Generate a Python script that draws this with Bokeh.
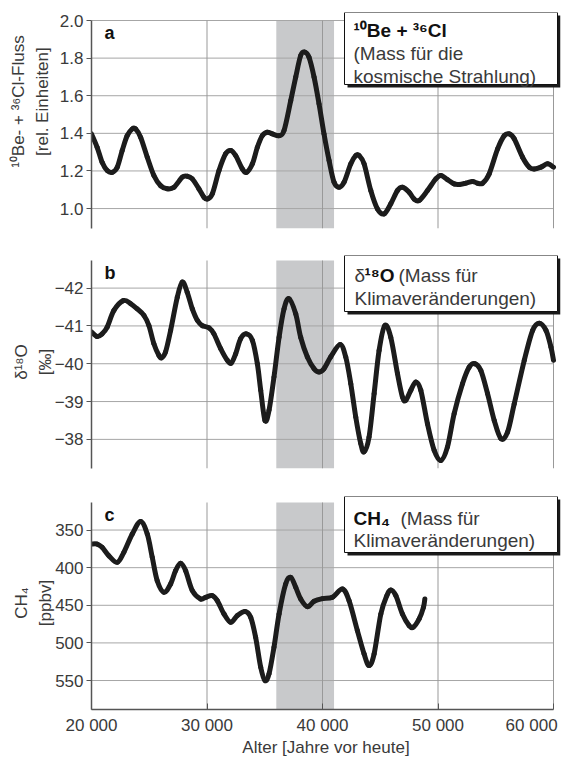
from bokeh.plotting import figure
from bokeh.layouts import column
from bokeh.models import Range1d, FixedTicker, BoxAnnotation, Label, PrintfTickFormatter
from bokeh.embed import file_html
from bokeh.resources import INLINE

# ---------------- data ----------------
be_age = [20000, 20490, 20920, 21360, 21790, 22230, 22660, 23090, 23530, 23810,
          24250, 24830, 25400, 25980, 26560, 27140, 27860, 28290, 28730, 29300,
          29740, 30030, 30460, 31040, 31610, 32050, 32480, 33060, 33430, 33930,
          34360, 34790, 35230, 35660, 36240, 36670, 37250, 37680, 38110, 38460,
          38830, 39270, 39700, 40130, 40570, 41000, 41430, 41870, 42450, 42880,
          43170, 43600, 44180, 44760, 45330, 45910, 46490, 46920, 47500, 47930,
          48370, 49090, 49810, 50250, 50820, 51400, 51830, 52410, 52990, 53420,
          53860, 54430, 55160, 55740, 56170, 56600, 57320, 57900, 58330, 58910,
          59490, 60000]
be_flux = [1.397, 1.326, 1.246, 1.202, 1.193, 1.220, 1.309, 1.388, 1.424, 1.424,
           1.379, 1.273, 1.176, 1.122, 1.105, 1.113, 1.167, 1.172, 1.158, 1.105,
           1.060, 1.051, 1.078, 1.202, 1.291, 1.309, 1.282, 1.211, 1.193, 1.238,
           1.326, 1.388, 1.406, 1.397, 1.388, 1.415, 1.574, 1.699, 1.814, 1.832,
           1.805, 1.699, 1.557, 1.397, 1.255, 1.140, 1.113, 1.140, 1.238, 1.282,
           1.282, 1.238, 1.096, 0.998, 0.972, 1.025, 1.096, 1.113, 1.087, 1.051,
           1.043, 1.096, 1.158, 1.176, 1.154, 1.131, 1.128, 1.135, 1.144, 1.135,
           1.135, 1.184, 1.317, 1.388, 1.397, 1.371, 1.273, 1.220, 1.211, 1.220,
           1.238, 1.220]

d18o_age = [20000, 20490, 20920, 21360, 21940, 22750, 23380, 23960, 24540, 24970,
            25400, 25840, 26070, 26410, 26850, 27430, 27860, 28290, 28730, 29160,
            29590, 30170, 30600, 31180, 31760, 32110, 32480, 32910, 33410, 33930,
            34360, 34650, 35020, 35370, 35800, 36240, 36670, 37100, 37680, 38110,
            38690, 39270, 39700, 40130, 40710, 41520, 42010, 42450, 42880, 43310,
            43600, 44030, 44470, 44900, 45390, 45910, 46490, 46920, 47210, 47650,
            48080, 48510, 49090, 49670, 50250, 50820, 51400, 52120, 52700, 53190,
            53710, 54290, 54870, 55450, 56020, 56600, 57470, 58190, 58770, 59350,
            59780, 60000]
d18o = [-40.84, -40.72, -40.79, -40.97, -41.41, -41.67, -41.59, -41.45, -41.28, -41.01,
        -40.53, -40.22, -40.16, -40.31, -40.88, -41.76, -42.16, -41.89, -41.45, -41.15,
        -41.01, -40.95, -40.79, -40.40, -40.09, -40.02, -40.26, -40.66, -40.79, -40.62,
        -40.00, -39.30, -38.50, -38.77, -39.65, -40.70, -41.45, -41.72, -41.32, -40.70,
        -40.18, -39.87, -39.78, -39.87, -40.18, -40.51, -40.18, -39.47, -38.59, -37.89,
        -37.67, -38.06, -39.21, -40.35, -41.01, -40.70, -39.74, -39.12, -39.03, -39.30,
        -39.52, -39.30, -38.41, -37.71, -37.44, -37.80, -38.68, -39.47, -39.91, -40.00,
        -39.82, -39.21, -38.50, -38.02, -38.19, -38.94, -40.09, -40.88, -41.07, -40.88,
        -40.44, -40.09]

ch4_age = [20000, 20490, 20920, 21500, 22230, 22800, 23530, 24250, 24830, 25260,
           25690, 26270, 26850, 27280, 27710, 28150, 28730, 29450, 29880, 30460,
           30890, 31470, 32050, 32630, 33290, 33780, 34210, 34650, 35020, 35370,
           35800, 36240, 36810, 37250, 37680, 38110, 38690, 39270, 39990, 40860,
           41720, 42300, 43020, 43600, 44030, 44470, 45050, 45570, 45910, 46350,
           46920, 47500, 47850, 48370, 48740, 48860]
ch4 = [368.6, 368.6, 373.0, 384.1, 392.9, 379.6, 355.3, 338.5, 355.3, 386.3,
       417.3, 432.7, 421.7, 404.0, 394.2, 404.0, 430.5, 441.6, 439.4, 437.2,
       443.8, 461.5, 472.6, 463.7, 458.4, 465.9, 492.5, 532.3, 550.0, 541.2,
       505.8, 461.5, 421.7, 412.8, 426.1, 441.6, 451.8, 444.7, 441.2, 439.4,
       428.3, 443.8, 483.6, 514.6, 530.1, 514.6, 461.5, 437.2, 429.6, 437.2,
       461.5, 477.0, 479.2, 468.1, 452.7, 441.6]

shade_start, shade_end = 36000, 41000

x_ticks = [20000, 30000, 40000, 50000, 60000]
x_tick_labels = ["20 000", "30 000", "40 000", "50 000", "60 000\u00a0\u00a0\u00a0\u00a0"]
a_ticks = [1.0, 1.2, 1.4, 1.6, 1.8, 2.0]
b_ticks = [-42, -41, -40, -39, -38]
c_ticks = [350, 400, 450, 500, 550]

# ---------------- layout helpers ----------------
FONT = "Liberation Sans"
TXT = "#3a3a3a"
X0, X1 = 20000, 60000
DATA_L, DATA_R = 91, 553      # pixel columns of 20 000 and 60 000
FRAME_R = 560                  # frame reaches a bit further right for the legend boxes
GRID = "#a6a6a6"
NB = "\u00a0"


def xd(px):
    return X0 + (px - DATA_L) * (X1 - X0) / (DATA_R - DATA_L)


class Panel:
    def __init__(self, top, bottom, ytop, ybot, frame_top):
        self.top, self.bottom, self.ytop, self.ybot = top, bottom, ytop, ybot
        self.frame_top = frame_top

    def y(self, py):
        return self.ytop + (py - self.top) / (self.bottom - self.top) * (self.ybot - self.ytop)


def smooth_segments(xs, ys):
    """Catmull-Rom style cubic Bezier pieces through the given points."""
    n = len(xs)
    out = {k: [] for k in ("x0", "y0", "x1", "y1", "cx0", "cy0", "cx1", "cy1")}
    for i in range(n - 1):
        xm, ym = (xs[i - 1], ys[i - 1]) if i > 0 else (xs[i], ys[i])
        xp, yp = (xs[i + 2], ys[i + 2]) if i + 2 < n else (xs[i + 1], ys[i + 1])
        out["x0"].append(xs[i]); out["y0"].append(ys[i])
        out["x1"].append(xs[i + 1]); out["y1"].append(ys[i + 1])
        out["cx0"].append(xs[i] + (xs[i + 1] - xm) / 6.0)
        out["cy0"].append(ys[i] + (ys[i + 1] - ym) / 6.0)
        out["cx1"].append(xs[i + 1] - (xp - xs[i]) / 6.0)
        out["cy1"].append(ys[i + 1] - (yp - ys[i]) / 6.0)
    return out


def make_fig(pan, yticks, border_top, border_bottom, show_x, ylabel, label_standoff):
    frame_h = pan.bottom - pan.frame_top
    ymin, ymax = min(pan.ybot, pan.ytop), max(pan.ybot, pan.ytop)
    p = figure(frame_width=FRAME_R - DATA_L, frame_height=frame_h,
               x_range=Range1d(X0, xd(FRAME_R)), y_range=Range1d(pan.ybot, pan.y(pan.frame_top)),
               output_backend="svg", toolbar_location=None,
               x_axis_location="below" if show_x else None,
               min_border_left=DATA_L, min_border_right=576 - FRAME_R,
               min_border_top=border_top, min_border_bottom=border_bottom,
               background_fill_color="white", border_fill_color="white")
    p.outline_line_color = None
    p.xgrid.visible = False
    p.ygrid.visible = False
    # shaded interval
    p.add_layout(BoxAnnotation(left=shade_start, right=shade_end, top=pan.ytop, bottom=pan.ybot,
                               fill_color="#c8c9cb", fill_alpha=1.0, line_color=None,
                               level="image"))
    # grid lines
    p.segment(x0=[X0] * len(yticks), y0=yticks, x1=[X1] * len(yticks), y1=yticks,
              line_color=GRID, line_width=1)
    vt = x_ticks[1:]
    p.segment(x0=vt, y0=[pan.ybot] * len(vt), x1=vt, y1=[pan.ytop] * len(vt),
              line_color="#999999", line_width=1)
    ax = p.yaxis[0]
    ax.ticker = FixedTicker(ticks=yticks)
    ax.bounds = (ymin, ymax)
    ax.axis_line_color = "#555555"
    ax.axis_line_width = 1.5
    ax.major_tick_line_color = "#555555"
    ax.major_tick_out = 5
    ax.major_tick_in = 0
    ax.minor_tick_line_color = None
    ax.major_label_standoff = 3
    ax.major_label_text_font = FONT
    ax.major_label_text_font_size = "17px"
    ax.major_label_text_color = TXT
    ax.axis_label = ylabel
    ax.axis_label_text_font = FONT
    ax.axis_label_text_font_size = "17px"
    ax.axis_label_text_font_style = "normal"
    ax.axis_label_text_color = TXT
    ax.axis_label_text_line_height = 1.25
    ax.axis_label_standoff = label_standoff
    if show_x:
        xa = p.xaxis[0]
        xa.ticker = FixedTicker(ticks=x_ticks)
        xa.bounds = (X0, X1)
        xa.major_label_overrides = {t: l for t, l in zip(x_ticks, x_tick_labels)}
        xa.axis_line_color = "#555555"
        xa.axis_line_width = 1.5
        xa.major_tick_line_color = "#555555"
        xa.major_tick_in = 6
        xa.major_tick_out = 0
        xa.minor_tick_line_color = None
        xa.major_label_standoff = 6
        xa.major_label_text_font = FONT
        xa.major_label_text_font_size = "17px"
        xa.major_label_text_color = TXT
        xa.axis_label = "Alter [Jahre vor heute]"
        xa.axis_label_text_font = FONT
        xa.axis_label_text_font_size = "17px"
        xa.axis_label_text_font_style = "normal"
        xa.axis_label_text_color = TXT
        xa.axis_label_standoff = 0
    return p


def add_text(p, pan, text, px, py, size="19px", bold=False, color=TXT):
    p.add_layout(Label(x=xd(px), y=pan.y(py), text=text, text_font=FONT,
                       text_font_size=size, text_font_style="bold" if bold else "normal",
                       text_color=color, text_baseline="middle", text_align="left",
                       level="overlay"))


def add_box(p, pan, left, right, top, bottom):
    p.add_layout(BoxAnnotation(left=xd(left + 3), right=xd(right + 3), top=pan.y(top + 3),
                               bottom=pan.y(bottom + 3), fill_color="#1a1a1a", fill_alpha=1.0,
                               line_color=None, level="overlay"))
    p.add_layout(BoxAnnotation(left=xd(left), right=xd(right), top=pan.y(top),
                               bottom=pan.y(bottom), fill_color="white", fill_alpha=1.0,
                               line_color="#111111", line_width=1, line_alpha=1.0,
                               level="overlay"))


LINE = dict(line_width=5, line_color="#1c1c1c", line_cap="round")

# ---------------- panel a ----------------
pa = Panel(20, 228, 2.0, 0.894, frame_top=12)
fa = make_fig(pa, a_ticks, 12, 16, False,
              NB * 8 + "¹⁰Be- + ³⁶Cl-Fluss\n" + NB * 8 + "[rel. Einheiten]", 5)
fa.yaxis[0].formatter = PrintfTickFormatter(format="%.1f")
fa.bezier(**smooth_segments(be_age, be_flux), **LINE)
add_text(fa, pa, "a", 104, 32, size="18px", bold=True, color="#111111")
add_box(fa, pa, 344, 557, 12, 84)
add_text(fa, pa, "¹⁰Be + ³⁶Cl", 353, 30, bold=True, color="#111111")
add_text(fa, pa, "(Mass für die", 353, 53)
add_text(fa, pa, "kosmische Strahlung)", 353, 76)

# ---------------- panel b ----------------
pb = Panel(260, 468, -42.73, -37.23, frame_top=255)
fb = make_fig(pb, b_ticks, 11, 16, False, "δ¹⁸O\n[‰]", -3)
fb.bezier(**smooth_segments(d18o_age, d18o), **LINE)
add_text(fb, pb, "b", 104, 272, size="18px", bold=True, color="#111111")
add_box(fb, pb, 344, 557, 255, 311)
add_text(fb, pb, "δ", 354, 275)
add_text(fb, pb, "¹⁸O", 364, 275, bold=True, color="#111111")
add_text(fb, pb, "(Mass für", 398, 275)
add_text(fb, pb, "Klimaveränderungen)", 354, 298)

# ---------------- panel c ----------------
pc = Panel(502, 709, 313.4, 588.5, frame_top=496)
fc = make_fig(pc, c_ticks, 12, 49, True, "CH₄\n[ppbv]", -3)
fc.bezier(**smooth_segments(ch4_age, ch4), **LINE)
add_text(fc, pc, "c", 104, 514, size="18px", bold=True, color="#111111")
add_box(fc, pc, 344, 557, 496, 552)
add_text(fc, pc, "CH₄", 353, 518, bold=True, color="#111111")
add_text(fc, pc, "(Mass für", 400, 518)
add_text(fc, pc, "Klimaveränderungen)", 353, 540)

layout = column(fa, fb, fc, spacing=0)
open("out.html", "w").write(file_html(layout, INLINE))
